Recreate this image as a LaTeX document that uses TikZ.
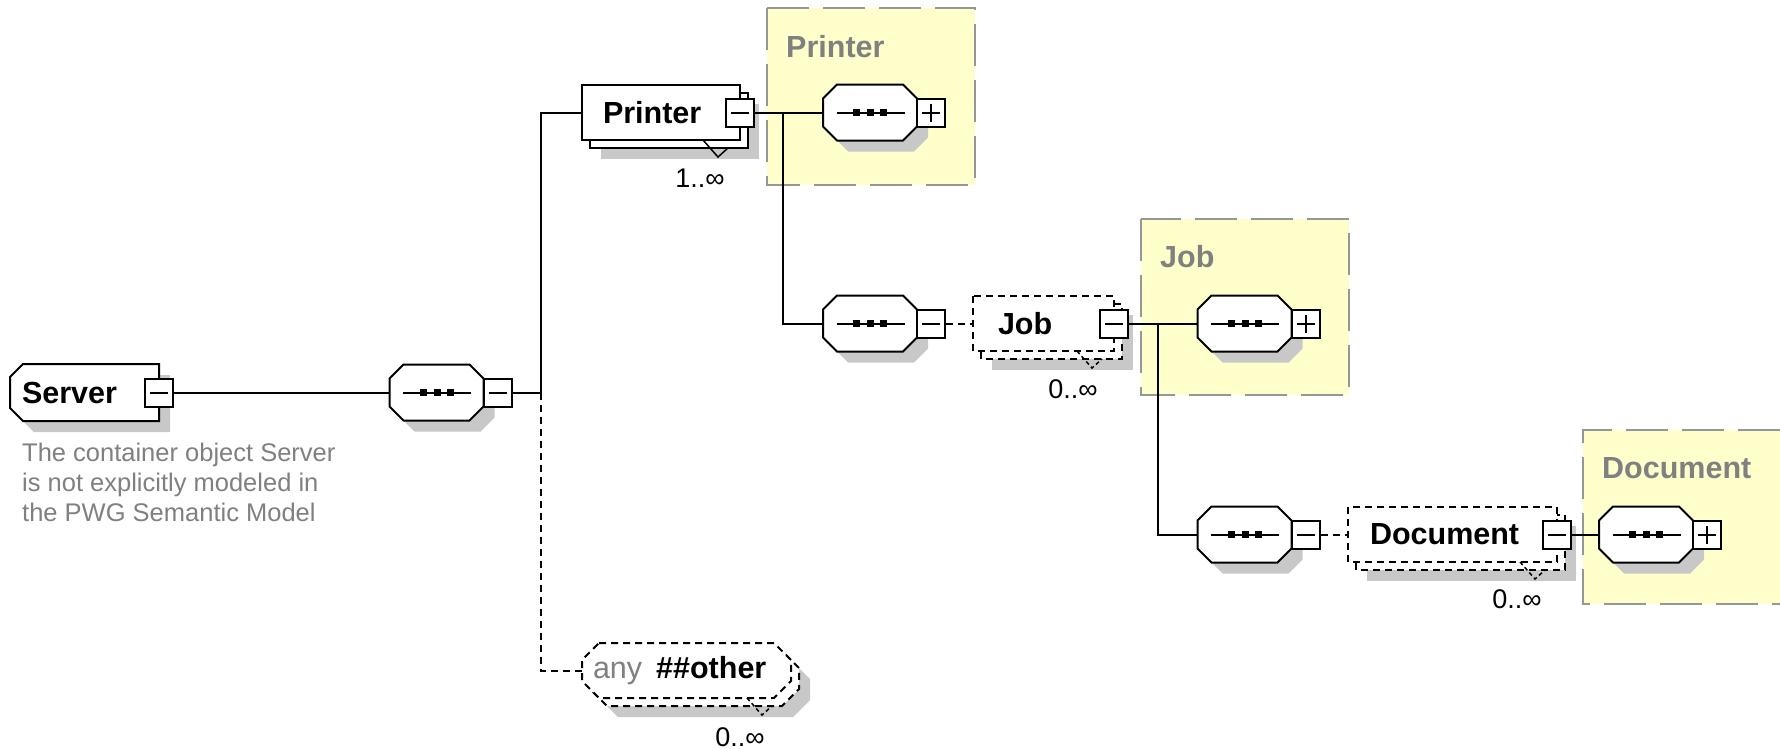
\documentclass[tikz,border=0pt]{standalone}
\usepackage{fontspec}
\setmainfont{Liberation Sans}
\definecolor{ctfill}{RGB}{255,255,204}
\definecolor{ctline}{RGB}{150,150,150}
\definecolor{dropgray}{RGB}{200,200,200}
\definecolor{txtgray}{RGB}{128,128,128}
\newcommand{\namefont}{\fontsize{30.5}{36}\selectfont\bfseries}
\newcommand{\multfont}{\fontsize{27}{32}\selectfont}
\newcommand{\notefont}{\fontsize{25.5}{30}\selectfont}
\begin{document}
\begin{tikzpicture}[x=1pt, y=-1pt,
   wire/.style={line width=2pt},
   optwire/.style={line width=2pt, dash pattern=on 7pt off 5pt},
   seqhold/.style={inner sep=0pt, minimum width=94pt, minimum height=56pt},
   elem/.style={inner ysep=0pt, minimum height=55pt, align=left, font=\namefont},
   btn/.style={draw, line width=2pt, fill=white, minimum width=28pt, minimum height=28pt, inner sep=0pt},
   minus/.style={btn, path picture={\draw[line width=2pt]
      ([xshift=5pt]path picture bounding box.west) -- ([xshift=-5pt]path picture bounding box.east);}},
   plus/.style={btn, path picture={\draw[line width=2pt]
      ([xshift=5pt]path picture bounding box.west) -- ([xshift=-5pt]path picture bounding box.east)
      ([yshift=-5pt]path picture bounding box.north) -- ([yshift=5pt]path picture bounding box.south);}},
   ctbox/.style={fill=ctfill, draw=ctline, line width=2pt, dash pattern=on 42pt off 14pt},
   ctlabel/.style={inner sep=0pt, anchor=west, text=txtgray, font=\namefont},
   mult/.style={inner sep=0pt, font=\multfont},
   note/.style={inner sep=0pt, anchor=north west, align=left, text=txtgray, font=\notefont}]
   \def\octo#1#2#3#4#5{(#1+#5,#2) -- (#3-#5,#2) -- (#3,#2+#5) -- (#3,#4-#5) -- (#3-#5,#4) -- (#1+#5,#4) -- (#1,#4-#5) -- (#1,#2+#5) -- cycle}
   \def\lcham#1#2#3#4#5{(#1+#5,#2) -- (#3,#2) -- (#3,#4) -- (#1+#5,#4) -- (#1,#4-#5) -- (#1,#2+#5) -- cycle}
   \def\seq#1#2#3#4{% sequence: name, cx, cy, button
      \fill[dropgray, shift={(11,11)}] \octo{#2-47}{#3-28}{#2+47}{#3+28}{14};
      \draw[wire, fill=white] \octo{#2-47}{#3-28}{#2+47}{#3+28}{14};
      \node[seqhold] (#1) at (#2,#3) {};
      \draw[wire] (#2-33.5,#3) -- (#2+34.5,#3);
      \foreach \dd in {-13.5,0.5,13.5} \fill (#2+\dd-3.5,#3-3.5) rectangle ++(7,7);
      \node[#4] (#1-btn) at (#2+61,#3) {};}
   \fill[white] (0,0) rectangle (1780,748);
   \useasboundingbox (0,0) rectangle (1780,748);
   % complex types
   \draw[ctbox] (767,8) rectangle (975,185);   % Printer type
   \node[ctlabel] (printer-ct) at (786,47) {Printer};
   \seq{pct}{870}{112.5}{plus}
   \draw[ctbox] (1141,219) rectangle (1349,395);   % Job type
   \node[ctlabel] (job-ct) at (1160,257) {Job};
   \seq{jct}{1244.5}{323.5}{plus}
   \fill[ctfill] (1583,430) rectangle (1780,604);   % Document type
   \draw[draw=ctline, line width=2pt, dash pattern=on 42pt off 14pt] (1780,430) -- (1583,430) -- (1583,604) -- (1780,604);
   \node[ctlabel] (doc-ct) at (1602,468) {Document};
   \seq{dct}{1646}{534.5}{plus}
   % Server
   \fill[dropgray, shift={(11,11)}] \lcham{10}{364}{159}{421}{13};
   \draw[wire, fill=white] \lcham{10}{364}{159}{421}{13};
   \node[elem, inner xsep=12pt, text width=125pt] (server) at (84.5,392.5) {Server};
   \node[minus] (server-btn) at (server.east) {};
   \node[note] (server-note) at (22,443) {The container object Server\\is not explicitly modeled in\\the PWG Semantic Model};
   \seq{seqa}{436.5}{392.5}{minus}
   % Printer
   \fill[dropgray] (601,104) rectangle (759,159);
   \draw[wire, fill=white] (590,93) rectangle (748,148);
   \draw[wire, fill=white] (582,85) rectangle (740,140);
   \node[elem, inner xsep=21pt, text width=116pt] (printer) at (661,112.5) {Printer};
   \node[minus] (printer-btn) at (printer.east) {};
   \draw[line width=1.5pt] (703,140) -- (718,157) -- (728,148);
   \node[mult] (printer-mult) at (700,178) {1..∞};
   \seq{jseq}{870}{323.5}{minus}
   % Job
   \fill[dropgray] (992,315) rectangle (1133,370);
   \draw[optwire, fill=white] (981,304) rectangle (1122,359);
   \draw[optwire, fill=white] (973,296) rectangle (1114,351);
   \node[elem, inner xsep=25pt, text width=91pt] (job) at (1043.5,323.5) {Job};
   \node[minus] (job-btn) at (job.east) {};
   \draw[optwire, line width=1.5pt, dash pattern=on 4pt off 3pt] (1077,351) -- (1092,368) -- (1102,359);
   \node[mult] (job-mult) at (1073,389) {0..∞};
   \seq{dseq}{1244.5}{534.5}{minus}
   % Document
   \fill[dropgray] (1367,526) rectangle (1576,581);
   \draw[optwire, fill=white] (1356,515) rectangle (1565,570);
   \draw[optwire, fill=white] (1348,507) rectangle (1557,562);
   \node[elem, inner xsep=22pt, text width=165pt] (doc) at (1452.5,534.5) {Document};
   \node[minus] (doc-btn) at (doc.east) {};
   \draw[optwire, line width=1.5pt, dash pattern=on 4pt off 3pt] (1520,562) -- (1535,579) -- (1545,570);
   \node[mult] (doc-mult) at (1517,599) {0..∞};
   % any ##other
   \fill[dropgray, shift={(19,19)}] \octo{582}{643}{791}{698}{17};
   \draw[optwire, fill=white, shift={(8,8)}] \octo{582}{643}{791}{698}{17};
   \draw[optwire, fill=white] \octo{582}{643}{791}{698}{17};
   \node[elem, inner xsep=11pt, text width=187pt] (any) at (686.5,670.5) {\mbox{\textcolor{txtgray}{\mdseries any}\hspace{14pt}\#\#other}};
   \draw[optwire, line width=1.5pt, dash pattern=on 4pt off 3pt] (747,698) -- (762,715) -- (772,706);
   \node[mult] (any-mult) at (740,737) {0..∞};
   % connectors
   \coordinate (trunk) at (541,392.5);
   \coordinate (pbr) at (783,112.5);
   \coordinate (jbr) at (1158,323.5);
   \draw[wire] (server-btn.east) -- (seqa.west);
   \draw[wire] (seqa-btn.east) -- (trunk) |- (printer.west);
   \draw[optwire] (trunk) |- (any.west);
   \draw[wire] (printer-btn.east) -- (pct.west);
   \draw[wire] (pbr) |- (jseq.west);
   \draw[optwire] (jseq-btn.east) -- (job.west);
   \draw[wire] (job-btn.east) -- (jct.west);
   \draw[wire] (jbr) |- (dseq.west);
   \draw[optwire] (dseq-btn.east) -- (doc.west);
   \draw[wire] (doc-btn.east) -- (dct.west);
\end{tikzpicture}
\end{document}
